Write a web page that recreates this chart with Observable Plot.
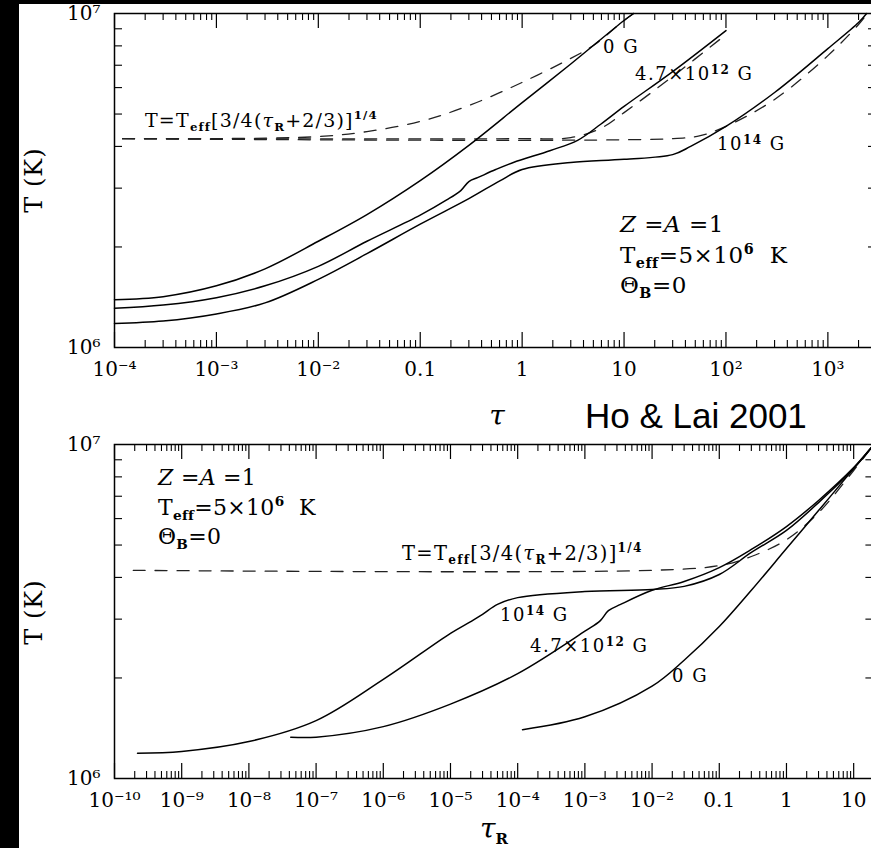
<!DOCTYPE html>
<html><head><meta charset="utf-8">
<script src="https://cdn.jsdelivr.net/npm/d3@7"></script>
<script src="https://cdn.jsdelivr.net/npm/@observablehq/plot@0.6"></script>
<style>
html,body{margin:0;padding:0;background:#000;width:871px;height:848px;overflow:hidden;position:relative;}
#page{position:absolute;left:19px;top:4px;width:900px;height:900px;background:#fff;}
#top,#bot{position:absolute;left:0;}
#top{top:0px}
#bot{top:431px}
</style></head><body>
<div id="page"></div>
<div id="top"></div><div id="bot"></div>
<script>
// ---------- tick values / labels ----------
const topTickValues = [1e-4, 1e-3, 1e-2, 0.1, 1, 10, 100, 1000];
const topTickLabels = ["10⁻⁴","10⁻³","10⁻²","0.1","1","10","10²","10³"];
const botTickValues = [1e-10,1e-9,1e-8,1e-7,1e-6,1e-5,1e-4,1e-3,1e-2,0.1,1,10];
const botTickLabels = ["10⁻¹⁰","10⁻⁹","10⁻⁸","10⁻⁷","10⁻⁶","10⁻⁵","10⁻⁴","10⁻³","10⁻²","0.1","1","10"];
const yTickValues = [1e6, 1e7];
const yTickLabels = ["10⁶", "10⁷"];
const minorMultipliers = [2,3,4,5,6,7,8,9];

// ---------- top panel (x = tau) ----------
const topTau0  = [1e-4, 3e-4, 1e-3, 3e-3, 1e-2, 3e-2, 0.1, 0.3, 1, 3, 10, 12.4];
const topT0    = [1.39e6, 1.42e6, 1.53e6, 1.72e6, 2.08e6, 2.50e6, 3.16e6, 4.03e6, 5.41e6, 7.06e6, 9.53e6, 1.0e7];
const topTau47 = [1e-4, 3e-4, 1e-3, 3e-3, 1e-2, 3e-2, 0.1, 0.18, 0.25, 0.30, 0.37, 0.55, 0.82, 1.9, 3.5, 5.9, 10, 30, 100];
const topT47   = [1.31e6, 1.34e6, 1.41e6, 1.53e6, 1.75e6, 2.08e6, 2.49e6, 2.76e6, 2.95e6, 3.14e6, 3.23e6, 3.41e6, 3.58e6, 3.89e6, 4.17e6, 4.66e6, 5.27e6, 6.70e6, 8.89e6];
const topTau14 = [1e-4, 3e-4, 1e-3, 3e-3, 1e-2, 3e-2, 0.1, 0.3, 0.61, 1, 3, 10, 30, 45, 100, 300, 1000, 2000, 2400];
const topT14   = [1.18e6, 1.20e6, 1.26e6, 1.36e6, 1.60e6, 1.91e6, 2.34e6, 2.79e6, 3.16e6, 3.41e6, 3.58e6, 3.66e6, 3.78e6, 4.0e6, 4.59e6, 5.80e6, 7.85e6, 9.40e6, 1.0e7];
const topDashTau0  = [1.2e-4, 1e-3, 1e-2, 3e-2, 0.1, 0.3, 1, 3, 5, 10, 12.4];
const topDashT0    = [4.22e6, 4.22e6, 4.28e6, 4.43e6, 4.75e6, 5.30e6, 6.22e6, 7.34e6, 8.02e6, 9.53e6, 1.0e7];
const topDashTau47 = [1.2e-4, 1, 3, 5.9, 10, 30, 100];
const topDashT47   = [4.22e6, 4.22e6, 4.25e6, 4.53e6, 5.05e6, 6.48e6, 8.65e6];
const topDashTau14 = [1.2e-4, 30, 56, 100, 300, 1000, 2000, 2400];
const topDashT14   = [4.22e6, 4.22e6, 4.31e6, 4.59e6, 5.53e6, 7.48e6, 9.27e6, 9.93e6];

// ---------- bottom panel (x = tau_R) ----------
const botTauR0  = [1.18e-4, 1e-3, 1e-2, 3e-2, 0.1, 0.3, 1, 3, 10, 20];
const botT0     = [1.40e6, 1.53e6, 1.89e6, 2.26e6, 2.85e6, 3.66e6, 4.88e6, 6.34e6, 8.47e6, 1.0e7];
const botTauR47 = [4.2e-8, 1e-7, 1e-6, 1e-5, 1e-4, 1e-3, 1.7e-3, 2.24e-3, 3.4e-3, 1e-2, 3e-2, 0.1, 0.3, 1, 3, 10, 20];
const botT47    = [1.33e6, 1.33e6, 1.43e6, 1.67e6, 2.06e6, 2.76e6, 2.97e6, 3.18e6, 3.32e6, 3.66e6, 3.89e6, 4.28e6, 4.85e6, 5.68e6, 6.80e6, 8.53e6, 1.0e7];
const botTauR14 = [2.2e-10, 1e-9, 1e-8, 1e-7, 1e-6, 1e-5, 2e-5, 3e-5, 5e-5, 1e-4, 1e-3, 1e-2, 3e-2, 0.1, 0.3, 1, 3, 10, 20];
const botT14    = [1.19e6, 1.205e6, 1.29e6, 1.49e6, 1.98e6, 2.72e6, 2.95e6, 3.10e6, 3.32e6, 3.48e6, 3.63e6, 3.68e6, 3.76e6, 4.08e6, 4.75e6, 5.53e6, 6.70e6, 8.47e6, 1.0e7];
const botDashTauR = [1.9e-10, 1e-2, 0.1, 0.3, 1, 3, 10, 20];
const botDashT    = [4.20e6, 4.20e6, 4.34e6, 4.62e6, 5.19e6, 6.25e6, 8.36e6, 1.0e7];

const zip = (xs, ys, s) => xs.map((x, i) => ({x, T: ys[i], s}));

const FONT = "'DejaVu Serif', serif";
const H = 334;

function panel(cfg) {
  const innerW = cfg.right - 114;
  const xLab = new Map(cfg.ticks.map((t, i) => [t, cfg.labels[i]]));
  const yLab = new Map(yTickValues.map((t, i) => [t, yTickLabels[i]]));
  const minor = cfg.ticks.flatMap(d => minorMultipliers.map(k => k * d)).filter(v => v <= cfg.domain[1]);
  const yMinor = minorMultipliers.map(k => k * 1e6);
  return Plot.plot({
    width: 900, height: cfg.height,
    marginLeft: 114, marginRight: 900 - cfg.right, marginTop: 13, marginBottom: cfg.height - 13 - H,
    x: {type: "log", domain: cfg.domain},
    y: {type: "log", domain: [1e6, 1e7]},
    style: {background: "none", maxWidth: "none", overflow: "visible", fontFamily: FONT, fontSize: "20px", color: "black"},
    marks: [
      Plot.tickX(minor, {x: d => d, insetTop: H - 7, strokeWidth: 1.1}),
      Plot.tickX(minor, {x: d => d, insetBottom: H - 7, strokeWidth: 1.1}),
      Plot.tickX(cfg.ticks, {x: d => d, insetTop: H - 15, strokeWidth: 1.2}),
      Plot.tickX(cfg.ticks, {x: d => d, insetBottom: H - 15, strokeWidth: 1.2}),
      Plot.tickY(yMinor, {y: d => d, insetRight: innerW - 8, strokeWidth: 1.1}),
      Plot.tickY(yMinor, {y: d => d, insetLeft: innerW - 8, strokeWidth: 1.1}),
      Plot.axisX({ticks: cfg.ticks, tickFormat: d => xLab.get(d), tickSize: 0, tickPadding: 14, label: null}),
      Plot.axisY({ticks: yTickValues, tickFormat: d => yLab.get(d), tickSize: 0, tickPadding: 14, label: null}),
      Plot.line(cfg.dashed, {x: "x", y: "T", z: "s", stroke: "#222", strokeWidth: 1.3, strokeDasharray: "12,10", curve: "catmull-rom"}),
      Plot.line(cfg.solid, {x: "x", y: "T", z: "s", stroke: "black", strokeWidth: 1.5, curve: "catmull-rom"}),
      Plot.frame({stroke: "black", strokeWidth: 1.5})
    ]
  });
}

const topPlot = panel({
  domain: [1e-4, 3e3], right: 876, height: 431,
  ticks: topTickValues, labels: topTickLabels,
  solid: [...zip(topTau0, topT0, "0"), ...zip(topTau47, topT47, "47"), ...zip(topTau14, topT14, "14")],
  dashed: [...zip(topDashTau0, topDashT0, "0"), ...zip(topDashTau47, topDashT47, "47"), ...zip(topDashTau14, topDashT14, "14")]
});
const botPlot = panel({
  domain: [1e-10, 20], right: 873.4, height: 417,
  ticks: botTickValues, labels: botTickLabels,
  solid: [...zip(botTauR0, botT0, "0"), ...zip(botTauR47, botT47, "47"), ...zip(botTauR14, botT14, "14")],
  dashed: zip(botDashTauR, botDashT, "d")
});
document.getElementById("top").appendChild(topPlot);
document.getElementById("bot").appendChild(botPlot);

const SUB = 'font-size="0.62em" font-weight="bold"';
function formula(x, y, fs, ls) {
  return `<text x="${x}" y="${y}" font-size="${fs}" letter-spacing="${ls}">T=T<tspan dy="4" ${SUB}>eff</tspan><tspan dy="-4">[3/4(</tspan><tspan font-style="italic">τ</tspan><tspan dy="4" ${SUB}>R</tspan><tspan dy="-4">+2/3)]</tspan><tspan dy="-8" ${SUB}>1/4</tspan></text>`;
}
function params(x, y, fs, lh, ls) {
  return `<text x="${x}" y="${y}" font-size="${fs}" letter-spacing="${ls}"><tspan font-style="italic">Z</tspan> =<tspan font-style="italic">A</tspan> =1</text>
  <text x="${x}" y="${y + lh}" font-size="${fs}" letter-spacing="${ls}">T<tspan dy="5" ${SUB}>eff</tspan><tspan dy="-5">=5×10</tspan><tspan dy="-9" ${SUB}>6</tspan><tspan dy="9">  K</tspan></text>
  <text x="${x}" y="${y + 2 * lh}" font-size="${fs}" letter-spacing="${ls}">Θ<tspan dy="5" ${SUB}>B</tspan><tspan dy="-5">=0</tspan></text>`;
}
function ylabel(cy) {
  return `<text transform="translate(34,${cy}) rotate(-90)" text-anchor="middle" dominant-baseline="central" font-size="24" letter-spacing="1">T (K)</text>`;
}
function curveLabel(x, y, txt) {
  return `<text x="${x}" y="${y}" font-size="18" letter-spacing="1.5">${txt}</text>`;
}
const SUP = "dy='-6' font-size='12' font-weight='bold'";

d3.select(topPlot).append("g").attr("font-family", FONT).attr("fill", "black").attr("text-anchor", "start").html(
  formula(145, 127, 19, 1.2) +
  params(620, 232, 23, 30.5, 0.5) +
  curveLabel(603, 53, "0 G") +
  curveLabel(635, 80, `4.7×10<tspan ${SUP}>12</tspan><tspan dy='6'> G</tspan>`) +
  curveLabel(717, 150, `10<tspan ${SUP}>14</tspan><tspan dy='6'> G</tspan>`) +
  ylabel(180) +
  `<text x="497" y="425" text-anchor="middle" font-size="28" font-style="italic">τ</text>` +
  `<text x="585" y="428" font-family="'Liberation Sans', Arial, sans-serif" font-size="35">Ho &amp; Lai 2001</text>`
);
d3.select(botPlot).append("g").attr("font-family", FONT).attr("fill", "black").attr("text-anchor", "start").html(
  params(158, 54, 22, 29.5, 0.3) +
  formula(402, 129, 19.5, 1.3) +
  curveLabel(500, 190, `10<tspan ${SUP}>14</tspan><tspan dy='6'> G</tspan>`) +
  curveLabel(530, 221, `4.7×10<tspan ${SUP}>12</tspan><tspan dy='6'> G</tspan>`) +
  curveLabel(672, 251, "0 G") +
  ylabel(181) +
  `<text x="494" y="407" text-anchor="middle" font-size="28" font-style="italic">τ<tspan dy="6" font-size="15" font-style="normal" font-weight="bold">R</tspan></text>`
);
</script></body></html>
